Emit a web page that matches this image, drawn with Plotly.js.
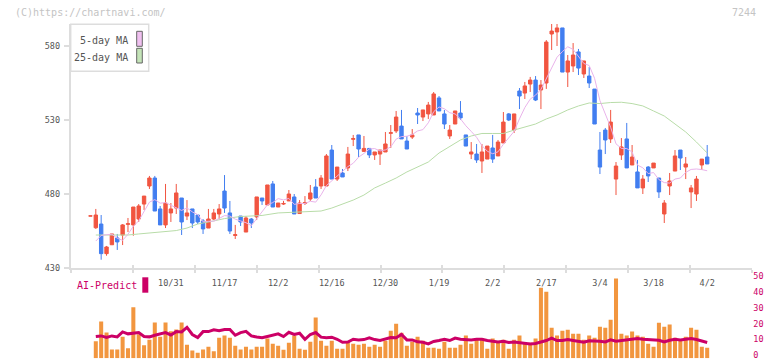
<!DOCTYPE html>
<html>
<head>
<meta charset="utf-8">
<script src="https://cdn.plot.ly/plotly-3.0.1.min.js"></script>
<style>html,body{margin:0;padding:0;background:#fff}#chart{width:772px;height:361px}</style>
</head>
<body>
<div id="chart"></div>
<script>
// ---- data (first element is the flat candle before the volume/MA series start) ----
const openP  = [465.1,457.2,459.7,439.7,445.7,450.3,452.3,459.5,459.1,463.1,473.2,485.4,490.8,469.9,459.1,467.2,470.5,477.3,465.1,469.9,465.8,461.8,457.0,463.1,466.5,482.0,467.2,452.0,465.1,454.3,463.1,464.5,477.3,472.6,486.8,471.2,473.2,475.3,478.0,466.8,473.6,476.6,484.7,485.4,485.4,509.7,490.1,494.2,497.6,517.0,519.9,508.8,510.8,506.4,507.0,508.4,521.0,522.6,525.9,515.8,518.5,534.7,532.0,534.1,533.4,544.9,534.1,519.2,527.3,534.7,519.9,507.0,507.0,502.3,503.6,511.1,505.7,514.5,534.1,523.2,549.6,548.2,554.3,557.0,550.3,555.0,588.1,589.5,592.2,562.4,566.5,576.0,561.1,559.7,550.9,509.7,523.2,517.2,490.1,506.4,517.2,499.6,494.9,484.1,498.2,497.6,490.8,466.5,485.4,495.5,509.7,498.2,481.4,480.0,499.6,505.0];
const highP  = [465.2,469.9,465.8,444.9,453.0,453.0,459.7,463.8,471.2,473.2,478.6,492.2,492.2,471.9,486.8,473.9,486.8,477.3,475.9,469.9,465.8,463.1,469.9,469.9,473.2,492.8,475.3,459.1,465.1,465.1,463.8,478.0,477.3,486.1,488.8,473.9,475.3,482.7,480.0,475.9,478.6,486.1,490.1,492.8,507.0,513.1,498.2,496.9,511.8,519.9,519.9,519.2,510.8,508.4,509.7,521.9,526.6,536.1,536.8,519.2,523.9,538.1,536.8,542.2,548.9,546.2,536.8,526.6,536.1,542.8,519.9,515.1,513.8,513.8,512.4,519.9,516.5,535.4,534.7,534.1,551.6,555.7,559.1,559.7,557.0,584.0,594.9,594.9,592.2,573.9,582.0,578.0,569.9,565.8,550.9,521.9,524.6,536.8,501.6,517.8,528.0,513.1,503.0,492.8,498.9,500.9,490.8,475.9,494.2,509.7,509.7,505.0,486.1,492.2,503.6,513.1];
const lowP   = [465.1,456.4,435.6,438.3,445.7,442.2,445.5,454.3,451.8,461.1,469.2,483.4,468.5,459.1,457.0,461.1,466.5,452.3,462.4,457.0,459.7,453.0,457.0,462.4,463.1,467.2,453.0,449.6,458.4,454.3,457.0,462.4,472.6,472.6,471.2,471.2,472.6,475.3,466.5,466.8,472.6,475.3,477.3,483.4,485.4,490.1,488.8,491.5,495.5,512.4,505.0,508.8,504.3,503.0,499.6,508.4,511.1,521.2,517.2,510.4,517.2,527.3,529.3,530.7,533.4,536.1,523.9,517.2,527.3,530.0,512.4,503.6,501.0,494.2,503.6,501.0,505.7,514.5,529.3,521.2,537.4,544.2,548.9,542.8,537.4,551.0,577.3,580.0,562.4,552.3,562.4,560.4,558.4,551.6,527.3,493.5,507.0,514.5,479.3,503.0,497.6,499.6,484.1,480.0,488.1,497.6,477.3,460.4,479.3,495.5,496.2,490.1,470.5,475.3,496.2,500.3];
const closeP = [465.2,465.8,439.7,444.2,453.0,447.6,459.1,459.9,471.2,471.9,478.6,490.8,468.5,459.1,473.9,469.9,480.7,461.1,467.2,460.4,461.1,456.4,463.1,467.2,469.9,470.5,455.0,452.5,461.1,463.8,460.4,478.0,475.3,486.1,471.2,473.9,473.6,480.0,466.5,473.9,474.2,480.7,477.3,490.8,505.7,490.1,498.2,491.5,507.0,517.4,510.4,510.8,506.4,508.4,509.7,513.8,521.4,532.0,517.2,510.4,519.9,533.4,536.8,540.1,547.6,536.1,527.3,523.2,536.1,531.4,512.4,508.4,503.0,508.4,512.4,503.6,515.1,528.6,530.0,534.1,546.2,553.0,557.0,543.5,553.6,582.7,590.1,592.2,562.4,569.9,573.9,565.1,569.9,555.0,527.3,498.2,516.5,528.6,498.9,511.8,497.6,505.0,484.1,490.1,492.2,500.9,481.4,473.9,488.8,505.7,504.3,500.3,484.1,490.1,503.6,500.3];

const ma5 = [null,448.2,452.0,452.5,452.8,450.1,448.7,452.8,458.2,461.9,468.1,474.5,476.2,473.8,474.2,472.4,470.4,468.9,470.6,467.9,466.1,461.2,461.6,461.6,463.5,465.4,465.1,463.0,461.8,460.6,458.6,463.2,467.7,472.7,474.2,476.9,476.0,477.0,473.0,473.6,473.6,475.1,474.5,479.4,485.7,488.9,492.4,495.3,498.5,500.8,504.9,507.4,510.4,510.7,509.1,509.8,511.9,517.1,518.8,519.0,520.2,522.6,523.5,528.1,535.6,538.8,537.6,534.9,534.1,530.8,526.1,522.3,518.3,512.7,508.9,507.2,508.5,513.6,517.9,522.3,530.8,538.4,544.1,546.8,550.7,558.0,565.4,572.4,576.2,579.5,577.7,572.7,568.2,566.8,558.2,543.1,533.4,525.1,513.9,510.8,510.7,508.4,499.5,497.7,493.8,494.5,489.7,487.7,487.4,490.1,490.8,494.6,496.6,496.9,496.5,495.7];

const ma25Day = [1,7,9,11,13,16,18,20,23,25,28,32,35,39,43,45,47,49,51,53,55,57,59,61,63,65,67,69,71,73,75,77,79,81,83,85,87,89,91,93,95,97,99,101,103,105,107,109,111,113,115];
const ma25    = [452.3,452.3,453.0,453.6,454.7,455.3,457.0,459.7,461.8,463.4,464.8,465.5,467.2,467.6,468.5,470.5,473.2,475.9,479.3,484.1,487.4,490.8,494.9,498.2,501.6,507.7,512.4,516.5,519.2,520.9,520.9,520.9,523.2,525.3,527.3,530.7,533.4,536.8,539.5,541.5,541.1,541.8,542.0,541.1,539.5,536.1,532.7,527.3,521.9,515.1,507.7];

const volume = [null,10.6,23.1,16.2,5.5,5.5,13.5,6.2,32.0,15.0,8.1,11.6,22.5,13.5,22.5,16.9,18.1,22.5,8.5,4.9,3.5,5.5,7.2,4.3,12.9,14.2,12.9,7.9,5.5,7.2,5.5,7.2,7.2,12.3,9.1,7.9,5.3,9.7,14.2,6.0,5.3,10.4,25.5,11.0,7.9,11.0,6.0,6.0,10.4,9.1,8.5,9.1,7.2,8.5,7.2,11.0,17.3,21.7,16.0,7.9,10.4,13.5,11.0,6.6,6.6,6.0,10.4,6.6,6.6,8.5,14.2,9.1,12.3,12.3,6.0,12.3,9.7,11.6,6.0,11.6,14.2,9.7,9.7,12.3,44.3,41.8,19.2,14.2,17.3,17.9,15.4,15.4,11.6,14.2,12.9,19.8,19.2,24.2,50.0,15.4,14.2,16.7,14.2,13.5,9.1,7.2,22.3,19.8,21.1,12.9,11.6,13.5,19.2,17.9,7.2,6.6];

const aiPredict = [null,13.6,14.0,13.0,14.0,13.4,16.5,15.3,15.7,16.1,13.6,13.4,14.4,15.3,16.1,14.6,16.7,16.5,19.4,14.9,13.0,16.7,16.7,17.8,17.2,18.0,18.0,14.4,16.1,16.9,14.0,13.3,12.8,13.6,14.4,15.3,13.6,16.3,14.9,15.7,11.9,14.9,16.1,13.2,12.8,13.2,11.9,10.0,10.2,11.9,11.5,11.7,12.8,11.7,11.1,11.9,13.0,12.8,14.9,11.5,11.5,10.3,10.0,9.0,10.5,11.1,11.9,11.1,12.6,11.9,11.5,11.5,11.9,11.9,11.1,10.7,10.2,10.6,9.9,10.2,9.9,9.7,9.0,9.2,10.0,11.1,12.6,11.1,11.1,11.7,11.1,10.7,10.0,10.9,10.9,10.7,10.2,11.5,10.7,11.1,11.7,11.9,12.3,11.9,11.7,11.9,11.3,10.2,11.3,11.9,11.5,11.9,12.3,11.7,10.9,9.9];

const tickDay    = [15,25,35,45,55,65,75,85,95,105,115];
const tickLabels = ['10/31','11/17','12/2','12/16','12/30','1/19','2/2','2/17','3/4','3/18','4/2'];
const priceTicks = [430,480,530,580];
const volTicks   = [0,10,20,30,40,50];

// ---- drawing ----
const W = 772, H = 361;
const px = v => v / W;
const py = v => 1 - v / H;
const dayIdx = openP.map((_, k) => k);
const FONT = 'DejaVu Sans Mono, monospace';
const RED = '#f15541', BLUE = '#427ef0';
const AXC = '#dddddd';

const traces = [
  {type:'scatter', mode:'lines', x: ma25Day, y: ma25, xaxis:'x', yaxis:'y',
   line:{color:'#b8dca8', width:1}, hoverinfo:'skip', showlegend:false},
  {type:'scatter', mode:'lines', x: dayIdx, y: ma5, xaxis:'x', yaxis:'y',
   line:{color:'#e9b3ea', width:1}, hoverinfo:'skip', showlegend:false, connectgaps:false},
  {type:'candlestick', x: dayIdx, open: openP, high: highP, low: lowP, close: closeP,
   xaxis:'x', yaxis:'y', whiskerwidth:0,
   increasing:{line:{color:RED, width:1}, fillcolor:RED},
   decreasing:{line:{color:BLUE, width:1}, fillcolor:BLUE},
   hoverinfo:'skip', showlegend:false},
  {type:'bar', x: dayIdx, y: volume, xaxis:'x', yaxis:'y3',
   marker:{color:'#f2963f', line:{width:0}}, hoverinfo:'skip', showlegend:false},
  {type:'scatter', mode:'lines', x: dayIdx, y: aiPredict, xaxis:'x', yaxis:'y3',
   line:{color:'#cc0066', width:3}, hoverinfo:'skip', showlegend:false},
  {type:'scatter', x:[], y:[], xaxis:'x2', yaxis:'y', showlegend:false, hoverinfo:'skip'},
  {type:'scatter', x:[], y:[], xaxis:'x3', yaxis:'y', showlegend:false, hoverinfo:'skip'},
  {type:'scatter', x:[], y:[], xaxis:'x', yaxis:'y4', showlegend:false, hoverinfo:'skip'}
];

const xDom = [px(70.7), px(752.3)];
const xRange = [(70.7 - 90.44) / 5.363, (752.3 - 90.44) / 5.363];
const VOL0 = 358.2, VOLPX = 1.592, VOLMAX = 52, LABLIFT = 2.8;

const layout = {
  width: W, height: H,
  margin:{l:0, r:0, t:0, b:0, pad:0},
  paper_bgcolor:'#ffffff', plot_bgcolor:'rgba(0,0,0,0)',
  showlegend:false, bargap:0.25, boxgap:0.1,
  font:{family:FONT, color:'#555555'},
  xaxis:{domain:xDom, range:xRange, autorange:false, anchor:'y',
    rangeslider:{visible:false}, showgrid:false, zeroline:false, showline:false,
    tickmode:'array', tickvals:tickDay, ticktext:tickLabels, ticks:'',
    ticklabelstandoff:8,
    tickfont:{family:FONT, size:8.5, color:'#555555'}, fixedrange:true},
  xaxis2:{domain:xDom, range:[0,11], autorange:false, overlaying:'x', anchor:'y', side:'bottom',
    tickmode:'linear', tick0:0, dtick:1, ticks:'outside', ticklen:3, tickwidth:2, tickcolor:AXC,
    showticklabels:false, showline:true, linecolor:AXC, linewidth:2, showgrid:false, zeroline:false},
  xaxis3:{domain:xDom, range:[0,11], autorange:false, overlaying:'x', anchor:'y', side:'bottom',
    tickmode:'linear', tick0:0, dtick:1, ticks:'inside', ticklen:3, tickwidth:2, tickcolor:AXC,
    showticklabels:false, showline:false, showgrid:false, zeroline:false},
  yaxis:{domain:[py(268), py(24)], range:[430, 430 + 244/1.48], autorange:false, anchor:'x',
    tickmode:'array', tickvals:priceTicks, ticks:'outside', ticklen:5, tickwidth:1.5, tickcolor:AXC,
    showline:true, linecolor:AXC, linewidth:2, showgrid:false, zeroline:false,
    ticklabelstandoff:2,
    tickfont:{family:FONT, size:8.5, color:'#555555'}},
  yaxis3:{domain:[py(VOL0), py(VOL0 - VOLMAX*VOLPX)], range:[0,VOLMAX], autorange:false,
    anchor:'free', position:px(752.3), side:'right',
    showticklabels:false, ticks:'', showline:false, showgrid:false, zeroline:false},
  yaxis4:{domain:[py(VOL0 - LABLIFT), py(VOL0 - LABLIFT - VOLMAX*VOLPX)], range:[0,VOLMAX], autorange:false,
    anchor:'free', position:px(752.3), side:'right',
    tickmode:'array', tickvals:volTicks, ticks:'', showline:false, showgrid:false, zeroline:false,
    tickfont:{family:FONT, size:8.5, color:'#cc0066'}},
  shapes:[
    {type:'rect', xref:'paper', yref:'paper', x0:px(70.7), x1:px(148.7), y0:py(71.3), y1:py(24.3),
     line:{color:AXC, width:1.5}, fillcolor:'#ffffff', layer:'above'},
    {type:'rect', xref:'paper', yref:'paper', x0:px(136.7), x1:px(142.3), y0:py(46.3), y1:py(31.3),
     line:{color:'#666666', width:1}, fillcolor:'#f0c0f0', layer:'above'},
    {type:'rect', xref:'paper', yref:'paper', x0:px(136.7), x1:px(142.3), y0:py(63), y1:py(48.3),
     line:{color:'#666666', width:1}, fillcolor:'#c4e4b8', layer:'above'},
    {type:'rect', xref:'paper', yref:'paper', x0:px(142.3), x1:px(148.3), y0:py(292.7), y1:py(277.3),
     line:{width:0}, fillcolor:'#cc0066', layer:'above'}
  ],
  annotations:[
    {xref:'paper', yref:'paper', x:px(13), y:py(12), xanchor:'left', yanchor:'middle', showarrow:false,
     text:'(C)https://chartnavi.com/', font:{family:FONT, size:10, color:'#c4c4c4'}},
    {xref:'paper', yref:'paper', x:px(758), y:py(12), xanchor:'right', yanchor:'middle', showarrow:false,
     text:'7244', font:{family:FONT, size:10, color:'#c4c4c4'}},
    {xref:'paper', yref:'paper', x:px(130), y:py(40.5), xanchor:'right', yanchor:'middle', showarrow:false,
     text:'5-day MA', font:{family:FONT, size:10, color:'#555555'}},
    {xref:'paper', yref:'paper', x:px(130), y:py(57), xanchor:'right', yanchor:'middle', showarrow:false,
     text:'25-day MA', font:{family:FONT, size:10, color:'#555555'}},
    {xref:'paper', yref:'paper', x:px(75), y:py(285.5), xanchor:'left', yanchor:'middle', showarrow:false,
     text:'AI-Predict', font:{family:FONT, size:10, color:'#cc0066'}}
  ]
};

Plotly.newPlot('chart', traces, layout, {staticPlot:true, displayModeBar:false});
</script>
</body>
</html>
